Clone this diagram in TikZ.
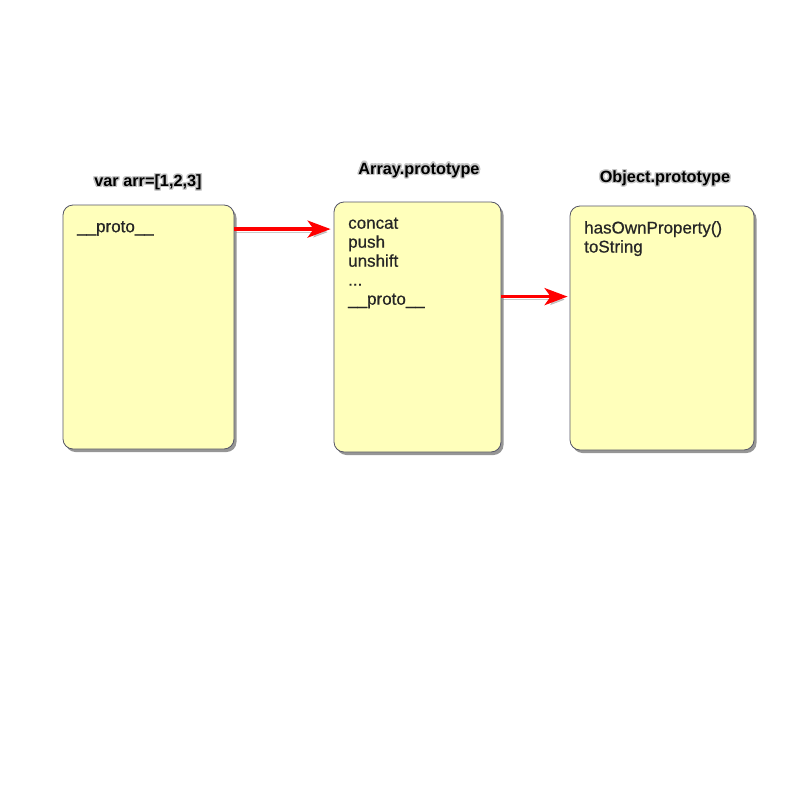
\documentclass[tikz,border=0pt]{standalone}
\usepackage{fontspec}
\setmainfont{Liberation Sans}
\usepackage[copies]{contour}
\usetikzlibrary{shadows,arrows.meta,calc}
\definecolor{boxfill}{HTML}{FFFFBB}
\definecolor{boxline}{HTML}{555566}
\definecolor{txt}{HTML}{262626}
\contourlength{1.4pt}
\contournumber{16}
\tikzset{
  card/.style={draw=boxline, line width=0.8pt, fill=boxfill, rounded corners=10pt,
    minimum width=#1, inner sep=0pt,
    drop shadow={shadow xshift=2.5pt, shadow yshift=-3pt, fill=black!75, opacity=0.55}},
  content/.style={anchor=north west, inner sep=0pt, align=left, text=txt,
    font=\fontsize{17}{19}\selectfont\addfontfeature{FakeBold=0.6}},
  title/.style={inner sep=0pt, font=\bfseries\fontsize{16.3}{18}\selectfont},
  link/.style={draw=red, line width=3.5pt, -{Stealth[length=23pt,width=17pt,inset=6pt]},
    preaction={draw=black!60, opacity=0.35, transform canvas={shift={(1.5pt,-3pt)}}}}
}
\begin{document}
\begin{tikzpicture}[x=1pt,y=-1pt]
\useasboundingbox (0,0) rectangle (800,800);
\node[card=171pt, minimum height=244pt] (b1) at (148.5,327) {};
\node[card=167pt, minimum height=250pt] (b2) at (417.5,327) {};
\node[card=184pt, minimum height=244pt] (b3) at (662,328) {};
\node[content] (t1) at (77,221) {\_\_proto\_\_};
\node[content] (t2) at (348,217.5) {concat\\push\\unshift\\...\\\_\_proto\_\_};
\node[content] (t3) at (584,221) {hasOwnProperty()\\toString};
\node[title] (l1) at (148,183) {\contour{black!22}{var arr=[1,2,3]}};
\node[title] (l2) at (419,171) {\contour{black!22}{Array.prototype}};
\node[title] (l3) at (665,179) {\contour{black!22}{Object.prototype}};
\draw[link] ($(b1.north east)+(0,24.5)$) -- ($(b2.north west)+(-3,27.5)$);
\draw[link] ($(b2.north east)+(0,95)$) -- ($(b3.north west)+(-2,91)$);
\end{tikzpicture}
\end{document}
